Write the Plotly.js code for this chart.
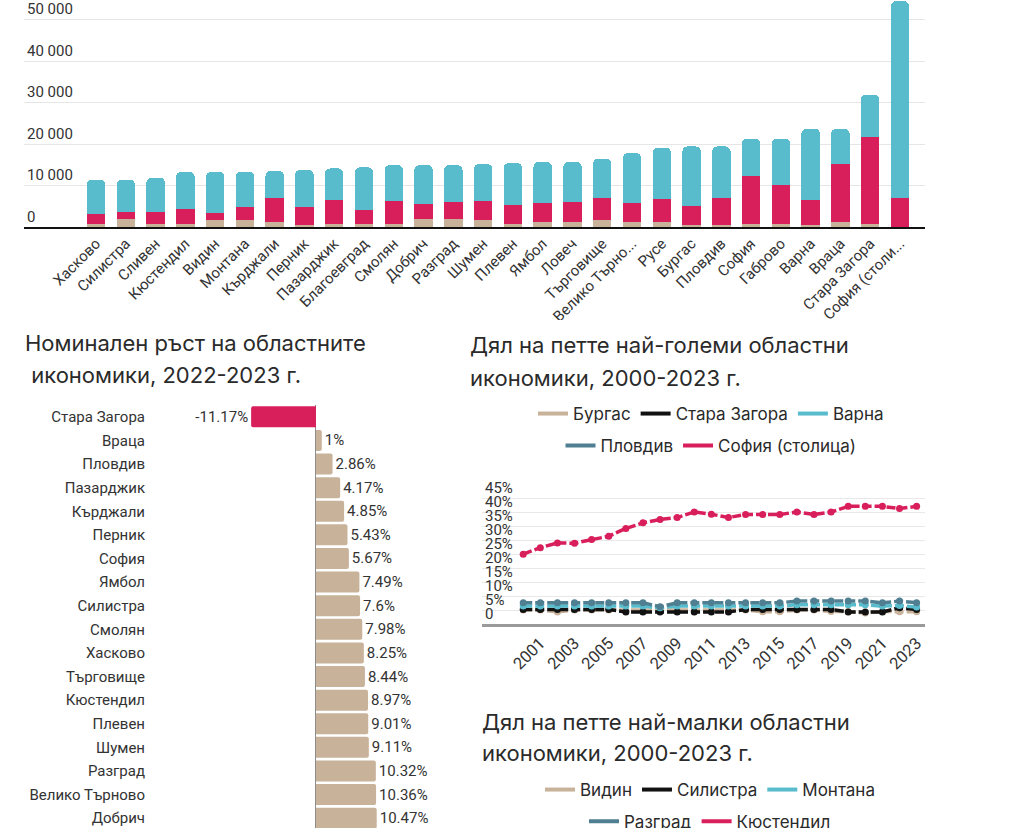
<!DOCTYPE html>
<html>
<head>
<meta charset="utf-8">
<script src="https://cdn.plot.ly/plotly-3.0.1.min.js"></script>
<style>
  html, body { margin:0; padding:0; background:#fff; width:1012px; height:828px; overflow:hidden; }
  .pane { position:absolute; }
</style>
</head>
<body>
<div id="gva" class="pane" style="left:0;top:0;width:1012px;height:320px;"></div>
<div id="growth" class="pane" style="left:0;top:320px;width:460px;height:540px;"></div>
<div id="big5" class="pane" style="left:460px;top:320px;width:552px;height:370px;"></div>
<div id="small5" class="pane" style="left:460px;top:690px;width:552px;height:420px;"></div>
<script>
// ---------- DATA ----------
// Top chart: regional values by sector (stacked)
const regions = ['Хасково','Силистра','Сливен','Кюстендил','Видин','Монтана','Кърджали','Перник','Пазарджик','Благоевград','Смолян','Добрич','Разград','Шумен','Плевен','Ямбол','Ловеч','Търговище','Велико Търново','Русе','Бургас','Пловдив','София','Габрово','Варна','Враца','Стара Загора','София (столица)'];
const regionTickLabels = ['Хасково','Силистра','Сливен','Кюстендил','Видин','Монтана','Кърджали','Перник','Пазарджик','Благоевград','Смолян','Добрич','Разград','Шумен','Плевен','Ямбол','Ловеч','Търговище','Велико Търно...','Русе','Бургас','Пловдив','София','Габрово','Варна','Враца','Стара Загора','София (столи...'];
const agriculture = [800,1850,800,800,1700,1700,1300,500,800,800,800,1850,1850,1600,800,1300,1100,1700,1100,1100,500,500,800,800,500,1100,800,100];
const industry    = [2400,1850,2900,3600,1600,3100,5800,4250,5600,3400,5400,3800,4250,4700,4500,4600,5000,5400,4800,5750,4500,6600,11400,9400,6100,14100,20800,7000];
const services    = [8200,7700,8200,8900,10000,8500,6450,9050,7700,10150,8700,9250,8800,8850,10100,9750,9550,9350,11900,12250,14400,12300,9100,11100,17100,8500,10300,47300];
const gvaTicks = [0,10000,20000,30000,40000,50000];

// Bottom-left: nominal growth 2022-2023
const growthRegions = ['Стара Загора','Враца','Пловдив','Пазарджик','Кърджали','Перник','София','Ямбол','Силистра','Смолян','Хасково','Търговище','Кюстендил','Плевен','Шумен','Разград','Велико Търново','Добрич'];
const growthValues  = [-11.17,1,2.86,4.17,4.85,5.43,5.67,7.49,7.6,7.98,8.25,8.44,8.97,9.01,9.11,10.32,10.36,10.47];

// Right: share of the five largest regional economies, 2000-2023
const years = [2000,2001,2002,2003,2004,2005,2006,2007,2008,2009,2010,2011,2012,2013,2014,2015,2016,2017,2018,2019,2020,2021,2022,2023];
const yearTicks = [2001,2003,2005,2007,2009,2011,2013,2015,2017,2019,2021,2023];
const shareTicks = [0,5,10,15,20,25,30,35,40,45];
const shareTickLabels = ['0','5%','10%','15%','20%','25%','30%','35%','40%','45%'];
const burgas      = [5.0,5.0,4.3,5.0,5.0,5.0,4.8,4.8,4.8,4.8,4.8,4.8,4.8,5.0,4.4,4.4,5.0,5.0,4.5,4.5,3.9,4.5,4.4,4.4];
const staraZagora = [5.2,5.2,5.2,5.2,5.2,5.2,4.3,4.3,4.3,4.3,4.3,4.3,4.3,5.2,5.2,5.2,5.2,5.2,5.2,4.3,4.3,4.3,5.8,5.2];
const varna       = [6.4,6.4,6.4,6.4,6.4,6.4,6.4,6.4,5.8,6.4,6.4,6.4,6.4,6.4,6.4,6.4,6.9,6.9,6.9,6.9,6.9,6.4,6.6,6.1];
const plovdiv     = [7.6,7.6,7.6,7.6,7.6,7.6,7.6,7.6,6.2,7.6,7.6,7.6,7.6,7.6,7.6,7.6,8.2,8.2,8.2,8.2,8.2,7.6,8.2,7.6];
const sofiaCap    = [25.0,27.3,29.0,28.9,30.2,31.4,34.2,36.2,37.4,38.1,40.1,39.3,38.1,39.2,39.2,39.2,40.1,39.2,40.1,42.1,42.1,42.1,41.3,42.1];
const bigNames = ['Бургас','Стара Загора','Варна','Пловдив','София (столица)'];
const smallNames = ['Видин','Силистра','Монтана','Разград','Кюстендил'];

// ---------- STYLE ----------
const TAN = '#c8b29a', CRIMSON = '#d81f5c', TEAL = '#58bccd', SLATE = '#4f7f90', BLACK = '#111111';
const TXT = '#333333';
const AX_FONT = {family:'Roboto, sans-serif', size:15, color:TXT};
const YEAR_FONT = {family:'Roboto, sans-serif', size:16.5, color:TXT};
const TITLE_FONT = {family:'Inter, sans-serif', size:22, color:'#2a2a2a'};
const LEG_FONT = {family:'Inter, sans-serif', size:17, color:'#2a2a2a'};
const cfg = {displayModeBar:false, staticPlot:true};
const LINE_COLS = [TAN, BLACK, TEAL, SLATE, CRIMSON];
const LEG_IDS = ['legend','legend','legend','legend2','legend2'];

function pxX(px, L){ return (px - L.margin.l)/(L.width - L.margin.l - L.margin.r); }
function pxY(py, L){ return 1 - (py - L.margin.t)/(L.height - L.margin.t - L.margin.b); }
function titleAnn(L, text, x, y){
  return {text:text, xref:'paper', yref:'paper', x:pxX(x,L), y:pxY(y,L), xanchor:'left', yanchor:'middle', showarrow:false, font:TITLE_FONT, align:'left'};
}
function legendBox(cx, cy, W, H){
  return {orientation:'h', xref:'container', yref:'container', x:cx/W, y:1-cy/H, xanchor:'center', yanchor:'middle',
          font:LEG_FONT, bgcolor:'rgba(0,0,0,0)', itemwidth:30, tracegroupgap:0};
}
// legend-only entries with a plain solid line key
function legendKeys(names){
  return names.map((n,i) => ({type:'scatter', mode:'lines', x:[null], y:[null], name:n, legend:LEG_IDS[i], showlegend:true,
      line:{color:LINE_COLS[i], width:4}, hoverinfo:'skip'}));
}

// ---------- TOP CHART ----------
(function(){
  const L = {
    width:1012, height:320,
    margin:{l:24, r:87, t:0, b:93},
    barmode:'stack', bargap:0.38, barcornerradius:5,
    showlegend:false, separators:'. ',
    paper_bgcolor:'#fff', plot_bgcolor:'#fff',
    xaxis:{type:'category', categoryorder:'array', categoryarray:regions, tickvals:regions, ticktext:regionTickLabels,
           range:[-2.42, 27.84], tickangle:-45, tickfont:AX_FONT, showgrid:false, ticks:'', zeroline:false,
           showline:true, linecolor:'#111', linewidth:2, automargin:false},
    yaxis:{range:[0,54700], tickvals:gvaTicks, tickformat:',d', ticklabelposition:'inside top', tickfont:AX_FONT,
           gridcolor:'#e6e6e6', gridwidth:1, zeroline:false, showline:false, ticks:'', automargin:false}
  };
  const mk = (y, c, n) => ({type:'bar', x:regions, y:y, name:n, marker:{color:c, line:{width:0}}, hoverinfo:'skip'});
  Plotly.newPlot('gva', [mk(agriculture,TAN,'Селско стопанство'), mk(industry,CRIMSON,'Индустрия'), mk(services,TEAL,'Услуги')], L, cfg);
})();

// ---------- BOTTOM-LEFT: GROWTH ----------
(function(){
  const L = {
    width:460, height:540,
    margin:{l:150, r:10, t:85, b:30},
    bargap:0.11, barcornerradius:2, showlegend:false,
    paper_bgcolor:'#fff', plot_bgcolor:'#fff',
    xaxis:{range:[-28.6, 23.1], showticklabels:false, showgrid:false, ticks:'', zeroline:true, zerolinecolor:'#8a8a8a', zerolinewidth:1, automargin:false},
    yaxis:{type:'category', categoryorder:'array', categoryarray:growthRegions, range:[growthRegions.length-0.5, -0.5],
           tickfont:AX_FONT, ticks:'', showgrid:false, ticklabelstandoff:4, automargin:false},
    annotations:[]
  };
  L.annotations.push(titleAnn(L, 'Номинален ръст на областните', 23, 23));
  L.annotations.push(titleAnn(L, ' икономики, 2022-2023 г.', 23, 55));
  const colors = growthValues.map(v => v < 0 ? CRIMSON : TAN);
  const labels = growthValues.map(v => String(v) + '%');
  Plotly.newPlot('growth', [{type:'bar', orientation:'h', x:growthValues, y:growthRegions, marker:{color:colors},
      text:labels, textposition:'outside', cliponaxis:false, textfont:{family:'Roboto, sans-serif', size:15, color:TXT}, hoverinfo:'skip'}], L, cfg);
})();

// ---------- RIGHT-TOP: FIVE LARGEST ----------
(function(){
  const L = {
    width:552, height:370,
    margin:{l:22, r:87, t:156, b:66},
    showlegend:true,
    paper_bgcolor:'#fff', plot_bgcolor:'#fff',
    xaxis:{range:[1997.59, 2023.49], tickvals:yearTicks, tickangle:-45, tickfont:YEAR_FONT, showgrid:false, ticks:'',
           zeroline:false, showline:true, linecolor:'#9a9a9a', linewidth:3, automargin:false},
    yaxis:{range:[0,52.97], tickvals:shareTicks, ticktext:shareTickLabels, ticklabelposition:'inside top', tickfont:AX_FONT,
           gridcolor:'#e8e8e8', zeroline:false, showline:false, ticks:'', automargin:false},
    legend:legendBox(251, 414-320, 552, 370),
    legend2:legendBox(251, 446-320, 552, 370),
    annotations:[]
  };
  L.annotations.push(titleAnn(L, 'Дял на петте най-големи областни', 8, 25));
  L.annotations.push(titleAnn(L, 'икономики, 2000-2023 г.', 8, 58));
  const series = [burgas, staraZagora, varna, plovdiv, sofiaCap];
  const traces = series.map((s,i) => ({type:'scatter', mode:'lines+markers', x:years, y:s, name:bigNames[i], showlegend:false,
      line:{color:LINE_COLS[i], width:3.5, dash:'9px,3px'}, marker:{color:LINE_COLS[i], size:7}, hoverinfo:'skip'}));
  Plotly.newPlot('big5', traces.concat(legendKeys(bigNames)), L, cfg);
})();

// ---------- RIGHT-BOTTOM: FIVE SMALLEST (plot area falls below the visible page) ----------
(function(){
  const L = {
    width:552, height:420,
    margin:{l:22, r:87, t:170, b:66},
    showlegend:true,
    paper_bgcolor:'#fff', plot_bgcolor:'#fff',
    xaxis:{range:[1997.59, 2023.49], tickvals:yearTicks, tickangle:-45, tickfont:YEAR_FONT, showgrid:false, ticks:'',
           zeroline:false, showline:true, linecolor:'#9a9a9a', linewidth:3, automargin:false},
    yaxis:{range:[0,2], ticklabelposition:'inside top', tickfont:AX_FONT, gridcolor:'#e8e8e8', zeroline:false, ticks:'', automargin:false},
    legend:legendBox(250, 790-690, 552, 420),
    legend2:legendBox(250, 821.7-690, 552, 420),
    annotations:[]
  };
  L.annotations.push(titleAnn(L, 'Дял на петте най-малки областни', 20, 31.7));
  L.annotations.push(titleAnn(L, 'икономики, 2000-2023 г.', 20, 63));
  Plotly.newPlot('small5', legendKeys(smallNames), L, cfg);
})();
</script>
</body>
</html>
